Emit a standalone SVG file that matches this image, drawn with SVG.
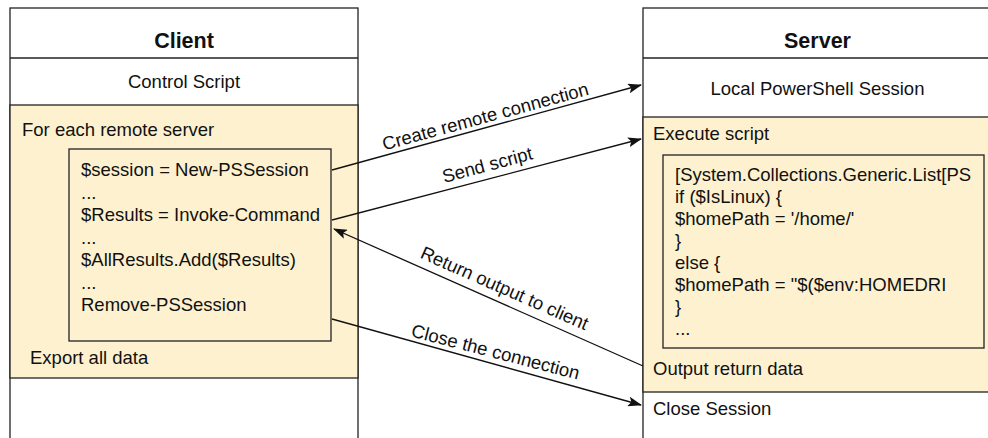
<svg xmlns="http://www.w3.org/2000/svg" width="988" height="438" viewBox="0 0 988 438">
<defs>
<style>
text{font-family:"Liberation Sans",Arial,sans-serif;font-size:18.5px;fill:#111}
.title{font-weight:bold;font-size:21.5px}
.box{fill:#fff;stroke:#222;stroke-width:1.3}
.yel{fill:#fdf1d0;stroke:#222;stroke-width:1.3}
.edge{fill:none;stroke:#111;stroke-width:1.3}
.mid{text-anchor:middle}
</style>
<marker id="ah" viewBox="0 0 14 10" refX="13" refY="5" markerWidth="14" markerHeight="10" markerUnits="userSpaceOnUse" orient="auto">
<path d="M0,0 L14,5 L0,10 L3,5 Z" fill="#111"/>
</marker>
</defs>
<rect width="988" height="438" fill="#fff"/>
<g id="client">
<rect class="box" x="10" y="8" width="348" height="440"/>
<line class="box" x1="10" y1="58" x2="358" y2="58"/>
<text class="title mid" x="184" y="48">Client</text>
<text class="mid" x="184" y="88">Control Script</text>
<rect class="yel" x="10" y="105" width="348" height="273"/>
<text x="22" y="136">For each remote server</text>
<text x="30" y="364">Export all data</text>
</g>
<g id="client-script">
<rect class="yel" x="69" y="149" width="262" height="192"/>
<text x="81" y="176">$session = New-PSSession</text>
<text x="81" y="198.5">...</text>
<text x="81" y="221">$Results = Invoke-Command</text>
<text x="81" y="243.5">...</text>
<text x="81" y="266">$AllResults.Add($Results)</text>
<text x="81" y="288.5">...</text>
<text x="81" y="311">Remove-PSSession</text>
</g>
<g id="server">
<rect class="box" x="643" y="8" width="349" height="440"/>
<line class="box" x1="643" y1="58" x2="992" y2="58"/>
<text class="title mid" x="817.5" y="48">Server</text>
<text class="mid" x="817.5" y="95">Local PowerShell Session</text>
<rect class="yel" x="643" y="117" width="349" height="275"/>
<text x="653" y="140">Execute script</text>
<text x="653" y="375">Output return data</text>
<text x="653" y="415">Close Session</text>
</g>
<g id="server-script">
<rect class="yel" x="663" y="155" width="321" height="193"/>
<text x="675" y="181">[System.Collections.Generic.List[PS</text>
<text x="675" y="203">if ($IsLinux) {</text>
<text x="675" y="225">$homePath = '/home/'</text>
<text x="675" y="247">}</text>
<text x="675" y="269">else {</text>
<text x="675" y="291">$homePath = "$($env:HOMEDRI</text>
<text x="675" y="313">}</text>
<text x="675" y="335">...</text>
</g>
<g id="connectors">
<line class="edge" x1="332" y1="170" x2="641" y2="85" marker-end="url(#ah)"/>
<line class="edge" x1="332" y1="220" x2="641" y2="139" marker-end="url(#ah)"/>
<line class="edge" x1="643" y1="366" x2="334" y2="229" marker-end="url(#ah)"/>
<line class="edge" x1="332" y1="319" x2="641" y2="405" marker-end="url(#ah)"/>
<text class="mid" transform="translate(487,122.5) rotate(-15.2)">Create remote connection</text>
<text class="mid" transform="translate(489,171) rotate(-15)">Send script</text>
<text class="mid" transform="translate(502,294) rotate(23.7)">Return output to client</text>
<text class="mid" transform="translate(494,358) rotate(14.5)">Close the connection</text>
</g>
</svg>
